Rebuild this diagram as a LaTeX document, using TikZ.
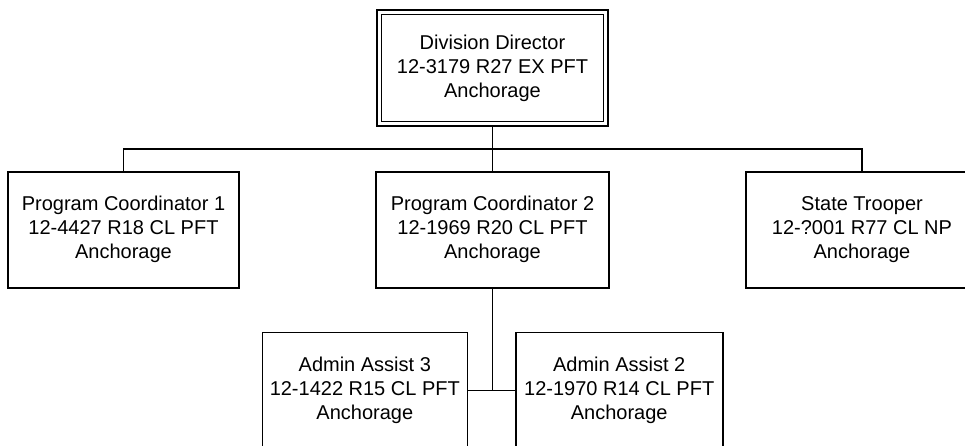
\documentclass[tikz,border=0pt]{standalone}
\usepackage{fontspec}
\setmainfont{Liberation Sans}
\usepackage{tikz}
\usetikzlibrary{calc}

\tikzset{
  post/.style={draw, line width=1.6pt, fill=white, align=center,
    minimum height=116pt, inner sep=0pt,
    font=\fontsize{20}{24}\selectfont},
  headpost/.style={post, double, line width=1.4pt, double distance=3.2pt,
    minimum height=111.4pt, outer sep=3.4pt},
  link/.style={line width=1.6pt}
}

\begin{document}
\begin{tikzpicture}[x=1pt, y=-1pt]
    \clip (0,0) rectangle (965,445);
    % Director
    \node[headpost, minimum width=226.4pt] (dir) at (492.5,68)
      {Division Director\\12-3179 R27 EX PFT\\Anchorage};
    % Second row
    \node[post, minimum width=231pt] (pcone) at (123.5,229.7)
      {Program Coordinator 1\\12-4427 R18 CL PFT\\Anchorage};
    \node[post, minimum width=233pt] (pctwo) at (492.5,229.7)
      {Program Coordinator 2\\12-1969 R20 CL PFT\\Anchorage};
    \node[post, minimum width=232pt] (trooper) at (862,229.7)
      {State Trooper\\12-?001 R77 CL NP\\Anchorage};
    % Assistants
    \node[post, minimum width=205pt] (aathree) at (364.8,390.5)
      {Admin Assist 3\\12-1422 R15 CL PFT\\Anchorage};
    \node[post, minimum width=207pt] (aatwo) at (619.2,390.5)
      {Admin Assist 2\\12-1970 R14 CL PFT\\Anchorage};
    % Lines
    \coordinate (bus) at (492.5,149);
    \draw[link] (dir.south) -- (bus) -- (pctwo.north);
    \draw[link] (pcone.north) -- (pcone.north |- bus) -- (trooper.north |- bus) -- (trooper.north);
    \coordinate (join) at (pctwo.south |- aathree.east);
    \draw[link] (pctwo.south) -- (join);
    \draw[link] (aathree.east) -- (aatwo.west);
\end{tikzpicture}
\end{document}
